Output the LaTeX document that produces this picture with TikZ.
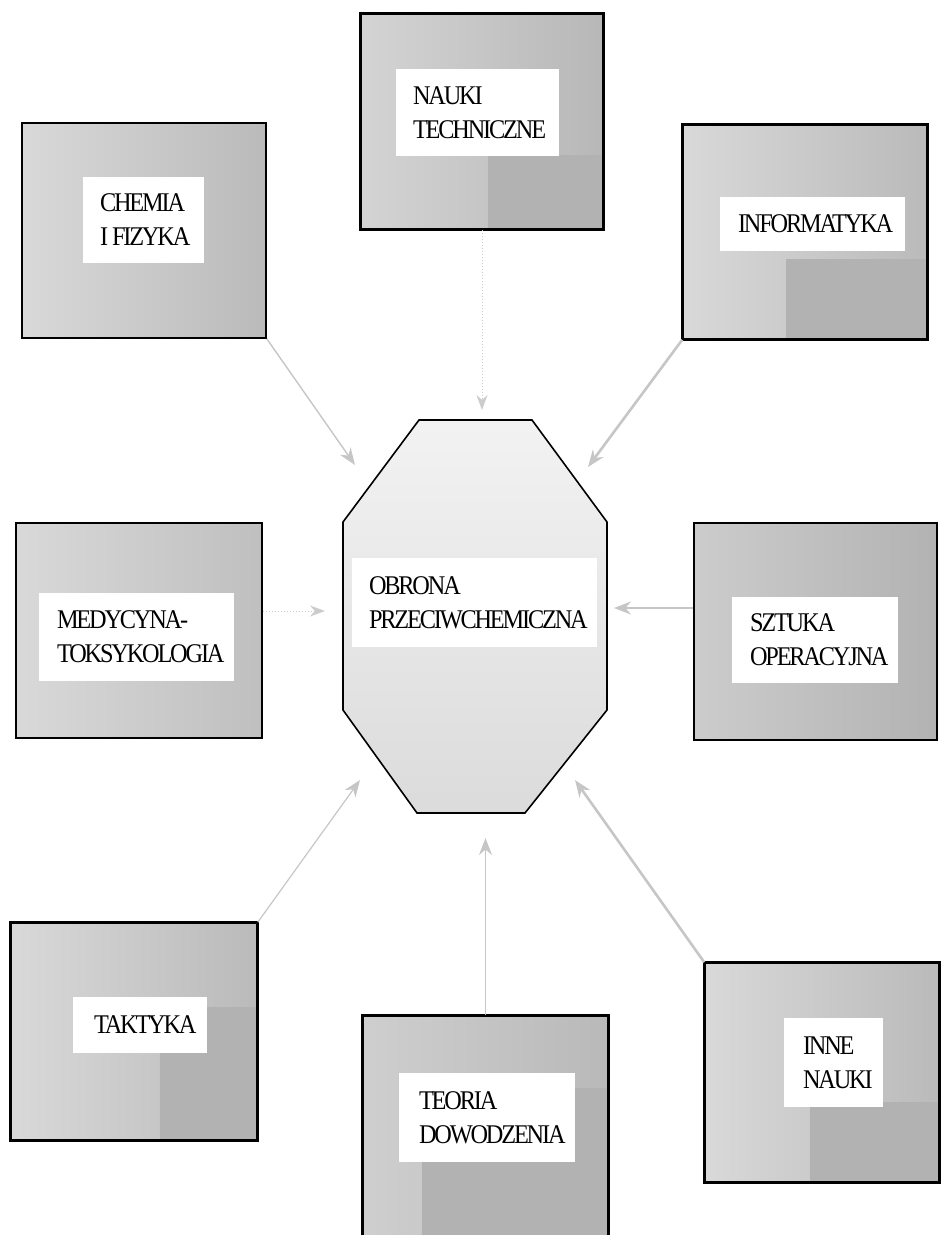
\documentclass[tikz,border=0pt]{standalone}
\usepackage{fontspec}
\setmainfont{Liberation Serif}[FakeStretch=0.9,LetterSpace=-8]
\usetikzlibrary{arrows.meta,calc,fit}

\begin{document}
\begin{tikzpicture}[x=1pt,y=-1pt,
  panel/.style={draw=black,line width=1.6pt,inner sep=0pt,left color=gray!30,right color=gray!54},
  darkpatch/.style={fill=gray!60},
  tag/.style={fill=white,inner sep=0pt},
  caption/.style={anchor=west,align=left,inner sep=0pt,font=\fontsize{27}{34}\selectfont},
  octa/.style={draw=black,line width=1.6pt,top color=gray!10,bottom color=gray!28},
  link/.style={draw=gray!45,line width=1.4pt,-{Stealth[length=17pt,width=13pt]}},
  thicklink/.style={link,line width=2.6pt},
  faintlink/.style={link,draw=gray!40,line width=1pt,dotted,-{Stealth[length=15pt,width=11pt]}},
]
\useasboundingbox (0,0) rectangle (942,1235);

% ---- outer boxes ----
\node[panel,fit={(22,123) (266,338)}] (chem) {};
\node[panel,fit={(361,14) (603,229)},left color=gray!34,right color=gray!56] (tech) {};
\fill[darkpatch] (488,155) rectangle (602,228);
\node[panel,fit={(683,125) (927,339)}] (info) {};
\fill[darkpatch] (786,259) rectangle (926,338);
\node[panel,fit={(16,523) (262,738)},left color=gray!30,right color=gray!50] (med) {};
\node[panel,fit={(694,523) (937,740)},left color=gray!40,right color=gray!60] (szt) {};
\node[panel,fit={(11,923) (257,1140)}] (takt) {};
\fill[darkpatch] (160,1007) rectangle (256,1139);
\node[panel,fit={(363,1016) (608,1240)},left color=gray!38,right color=gray!55] (teor) {};
\fill[darkpatch] (422,1088) rectangle (607,1240);
\node[panel,fit={(705,963) (939,1182)}] (inne) {};
\fill[darkpatch] (810,1102) rectangle (938,1181);

% redraw the outlines over the darker patches
\foreach \b in {tech,info,takt,teor,inne}
  \draw[line width=1.6pt] (\b.north west) rectangle (\b.south east);

% ---- central octagon ----
\draw[octa] (419,420) -- (532,420) -- (607,522) -- (607,710) -- (525,813)
  -- (417,813) -- (343,710) -- (343,522) -- cycle;

% ---- white labels ----
\node[tag,fit={(83,177) (204,263)}] (chemL) {};
\node[caption] (chemT) at ($(chemL.west)+(17,0)$) {CHEMIA\\I FIZYKA};

\node[tag,fit={(396,69) (559,156)}] (techL) {};
\node[caption] (techT) at ($(techL.west)+(17,0)$) {NAUKI\\TECHNICZNE};

\node[tag,fit={(720,197) (905,251)}] (infoL) {};
\node[caption] (infoT) at ($(infoL.west)+(18,0)$) {INFORMATYKA};

\node[tag,fit={(39,593) (234,681)}] (medL) {};
\node[caption] (medT) at ($(medL.west)+(18,0)$) {MEDYCYNA-\\TOKSYKOLOGIA};

\node[tag,fit={(352,558) (597,647)}] (obrL) {};
\node[caption] (obrT) at ($(obrL.west)+(17,0)$) {OBRONA\\PRZECIWCHEMICZNA};

\node[tag,fit={(732,597) (898,683)}] (sztL) {};
\node[caption] (sztT) at ($(sztL.west)+(18,0)$) {SZTUKA\\OPERACYJNA};

\node[tag,fit={(73,997) (207,1053)}] (taktL) {};
\node[caption] (taktT) at ($(taktL.west)+(21,0)$) {TAKTYKA};

\node[tag,fit={(399,1073) (575,1162)}] (teorL) {};
\node[caption] (teorT) at ($(teorL.west)+(20,0)$) {TEORIA\\DOWODZENIA};

\node[tag,fit={(784,1018) (883,1107)}] (inneL) {};
\node[caption] (inneT) at ($(inneL.west)+(19,0)$) {INNE\\NAUKI};

% ---- arrow tips at the octagon ----
\coordinate (tipChem) at (355,465);
\coordinate (tipTech) at (482,410);
\coordinate (tipInfo) at (588,467);
\coordinate (tipMed)  at (325,611);
\coordinate (tipSzt)  at (614,608);
\coordinate (tipTakt) at (360,780);
\coordinate (tipTeor) at (485.5,838);
\coordinate (tipInne) at (575,780);

% ---- connectors ----
\draw[link] (chem.south east) -- (tipChem);
\draw[faintlink] (tech.south) -- (tipTech);
\draw[thicklink] (info.south west) -- (tipInfo);
\draw[faintlink] (med.east |- tipMed) -- (tipMed);
\draw[thicklink,line width=2.2pt] (szt.west |- tipSzt) -- (tipSzt);
\draw[link,line width=1.2pt] (takt.north east) -- (tipTakt);
\draw[link,line width=1.8pt] (teor.north) -- (tipTeor);
\draw[thicklink] (inne.north west) -- (tipInne);
\end{tikzpicture}
\end{document}
